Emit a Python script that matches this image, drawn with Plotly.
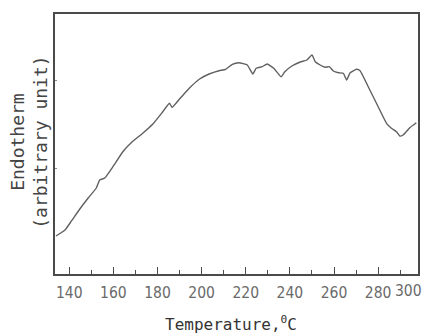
import plotly.graph_objects as go

# Temperature (°C)
temperature = [134.0, 138.1, 141.1, 144.8, 148.6, 152.3, 153.8, 156.1, 159.8, 164.3,
               168.1, 173.3, 177.9, 182.4, 185.4, 186.6, 189.9, 194.4, 198.9, 203.4,
               207.9, 210.9, 213.9, 216.9, 220.7, 223.2, 224.7, 227.4, 229.7, 232.7,
               236.0, 237.7, 240.9, 244.7, 247.7, 250.0, 251.5, 253.7, 256.0, 257.8,
               259.7, 262.0, 264.2, 265.7, 267.3, 270.2, 271.8, 275.5, 280.0, 283.8,
               286.0, 288.3, 289.8, 291.3, 294.3, 297.3]
# Endotherm (arbitrary unit)
endotherm = [3.80, 4.40, 5.33, 6.50, 7.60, 8.60, 9.40, 9.60, 10.73, 12.23,
             13.13, 14.07, 15.00, 16.23, 17.07, 16.67, 17.47, 18.57, 19.47, 20.00,
             20.33, 20.47, 20.97, 21.13, 20.90, 20.00, 20.57, 20.73, 21.00, 20.57,
             19.73, 20.23, 20.80, 21.20, 21.40, 21.90, 21.23, 20.90, 20.67, 20.73,
             20.30, 20.13, 20.07, 19.40, 20.13, 20.47, 20.33, 18.73, 16.73, 15.07,
             14.57, 14.23, 13.80, 13.90, 14.63, 15.13]

major_ticks = [140, 160, 180, 200, 220, 240, 260, 280]
major_labels = ["140", "160", "180", "200", "220", "240", "260", "280"]
extra_label = "300"
extra_label_pos = 293.6
y_ticks = [10.6, 19.4]

x_title = "Temperature,<sup>0</sup>C"
y_title = "Endotherm<br>(arbitrary unit)"

axis_color = "#4a4a4a"
mono = "DejaVu Sans Mono, monospace"
narrow = "Liberation Sans Narrow, DejaVu Sans Condensed, Arial Narrow, sans-serif"

fig = go.Figure()
fig.add_trace(go.Scatter(
    x=temperature, y=endotherm, mode="lines",
    line=dict(color="#606060", width=1.4, shape="spline", smoothing=0.4),
    hoverinfo="skip", showlegend=False,
))

fig.update_layout(
    width=423, height=335,
    margin=dict(l=55, r=3, t=14, b=61),
    paper_bgcolor="white", plot_bgcolor="white",
    xaxis=dict(
        range=[133.56, 298.05],
        tickvals=major_ticks, ticktext=major_labels,
        ticks="inside", ticklen=7, tickwidth=1.2, tickcolor=axis_color,
        minor=dict(dtick=10, tick0=140, ticks="inside", ticklen=4,
                   tickwidth=1.2, tickcolor=axis_color, showgrid=False),
        showgrid=False, zeroline=False,
        showline=True, linecolor=axis_color, linewidth=1.6, mirror=True,
        tickfont=dict(family=narrow, size=15.5, color="#6a6a6a"),
        ticklabelstandoff=4,
    ),
    yaxis=dict(
        range=[0, 26],
        tickvals=y_ticks, showticklabels=False,
        ticks="inside", ticklen=2, tickwidth=1, tickcolor="#888888",
        showgrid=False, zeroline=False,
        showline=True, linecolor=axis_color, linewidth=1.6, mirror=True,
    ),
    annotations=[
        dict(text=extra_label, x=extra_label_pos, xref="x", y=-0.067, yref="paper",
             xanchor="center", yanchor="middle", showarrow=False,
             font=dict(family=narrow, size=15.5, color="#6a6a6a")),
        dict(text=x_title, x=0.485, xref="paper", y=-0.192, yref="paper",
             xanchor="center", yanchor="middle", showarrow=False,
             font=dict(family=mono, size=16, color="#333333")),
        dict(text=y_title, x=-0.072, xref="paper", y=0.508, yref="paper",
             xanchor="center", yanchor="middle", textangle=-90, showarrow=False,
             font=dict(family=mono, size=18, color="#444444")),
    ],
)

fig.write_html(
    "out.html",
    config={"displayModeBar": False},
    post_script="document.body.style.margin='0';document.body.style.padding='0';"
                "document.documentElement.style.overflow='hidden';",
)
